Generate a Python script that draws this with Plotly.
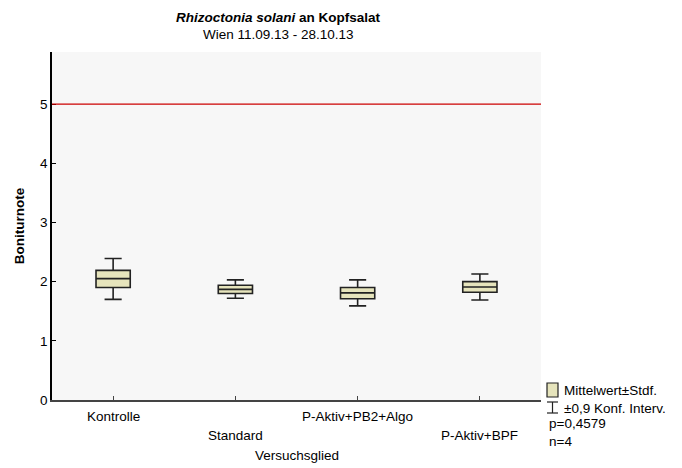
import plotly.graph_objects as go

categories = ["Kontrolle", "Standard", "P-Aktiv+PB2+Algo", "P-Aktiv+BPF"]
means = [2.05, 1.87, 1.81, 1.91]
box_low = [1.90, 1.80, 1.71, 1.82]
box_high = [2.19, 1.94, 1.90, 2.00]
ci_low = [1.70, 1.72, 1.59, 1.69]
ci_high = [2.39, 2.03, 2.03, 2.13]
reference_line = 5
y_ticks = [0, 1, 2, 3, 4, 5]

FONT = "Liberation Sans, Arial, sans-serif"
FS = 13.5
FILL = "#E6E4BC"

# page offset of the figure (body margin)
OFF = 8
PL, PR, PT, PB = 52, 541, 52, 400  # plot area in page pixels

fig = go.Figure()
fig.add_trace(go.Box(
    x=categories,
    q1=box_low, median=means, q3=box_high,
    lowerfence=ci_low, upperfence=ci_high,
    fillcolor=FILL,
    line=dict(color="#222222", width=1.6),
    whiskerwidth=0.5,
    boxpoints=False,
    hoverinfo="skip",
    showlegend=False,
))

fig.add_shape(type="line", xref="paper", yref="y", x0=0, x1=1,
              y0=reference_line, y1=reference_line,
              line=dict(color="#CC0000", width=1.2))

# staggered category labels
for i, c in enumerate(categories):
    fig.add_annotation(x=c, xref="x", y=0, yref="paper",
                       yshift=-7 if i % 2 == 0 else -26,
                       text=c, showarrow=False, yanchor="top",
                       font=dict(family=FONT, size=FS, color="#000"))

fig.add_annotation(x=0.5, xref="paper", y=0, yref="paper", yshift=-46,
                   text="Versuchsglied", showarrow=False, yanchor="top",
                   font=dict(family=FONT, size=FS, color="#000"))

pw = PR - PL
ph = PB - PT
def px_x(x):
    return (x - PL) / pw
def px_y(y):
    return (PB - y) / ph

# titles
title_x = px_x(278)
fig.add_annotation(x=title_x, xref="paper", y=1, yref="paper", yshift=PT - 17,
                   text="<b><i>Rhizoctonia solani</i> an Kopfsalat</b>",
                   showarrow=False, yanchor="middle",
                   font=dict(family=FONT, size=FS, color="#000"))
fig.add_annotation(x=title_x, xref="paper", y=1, yref="paper", yshift=PT - 34,
                   text="Wien 11.09.13 - 28.10.13",
                   showarrow=False, yanchor="middle",
                   font=dict(family=FONT, size=FS, color="#000"))

# legend (custom)
fig.add_shape(type="rect", xref="paper", yref="paper",
              x0=px_x(547), x1=px_x(558), y0=px_y(397), y1=px_y(383),
              fillcolor=FILL, line=dict(color="#222", width=1.2))
fig.add_shape(type="line", xref="paper", yref="paper",
              x0=px_x(547), x1=px_x(558), y0=px_y(402), y1=px_y(402),
              line=dict(color="#222", width=1.2))
fig.add_shape(type="line", xref="paper", yref="paper",
              x0=px_x(547), x1=px_x(558), y0=px_y(413), y1=px_y(413),
              line=dict(color="#222", width=1.2))
fig.add_shape(type="line", xref="paper", yref="paper",
              x0=px_x(552.5), x1=px_x(552.5), y0=px_y(402), y1=px_y(413),
              line=dict(color="#222", width=1.2))

legend_texts = [("Mittelwert±Stdf.", 562, 390),
                ("±0,9 Konf. Interv.", 562, 408),
                ("p=0,4579", 547, 424),
                ("n=4", 547, 441)]
for t, x, y in legend_texts:
    fig.add_annotation(x=px_x(x), xref="paper", y=px_y(y), yref="paper",
                       text=t, showarrow=False, xanchor="left", yanchor="middle",
                       font=dict(family=FONT, size=FS, color="#000"))

W, H = 682 - OFF, 468 - OFF
fig.update_layout(
    width=W, height=H,
    margin=dict(l=PL - OFF, r=W - (PR - OFF), t=PT - OFF, b=H - (PB - OFF)),
    paper_bgcolor="white",
    plot_bgcolor="#F7F7F7",
    boxgap=0.6,
    font=dict(family=FONT, size=FS, color="#000"),
    showlegend=False,
)
fig.update_xaxes(
    type="category", range=[-0.5, 3.5],
    showticklabels=False, ticks="inside", ticklen=4, tickcolor="#444",
    showline=True, linecolor="#444", linewidth=1.5, showgrid=False,
    zeroline=False,
)
fig.update_yaxes(
    title=dict(text="<b>Boniturnote</b>", font=dict(family=FONT, size=FS), standoff=12),
    range=[0, 5.88], tickvals=y_ticks, ticks="inside", ticklen=4,
    tickcolor="#000", showline=True, linecolor="#000", linewidth=1.5,
    showgrid=False, zeroline=False, tickfont=dict(family=FONT, size=FS),
)

fig.write_html("out.html")
